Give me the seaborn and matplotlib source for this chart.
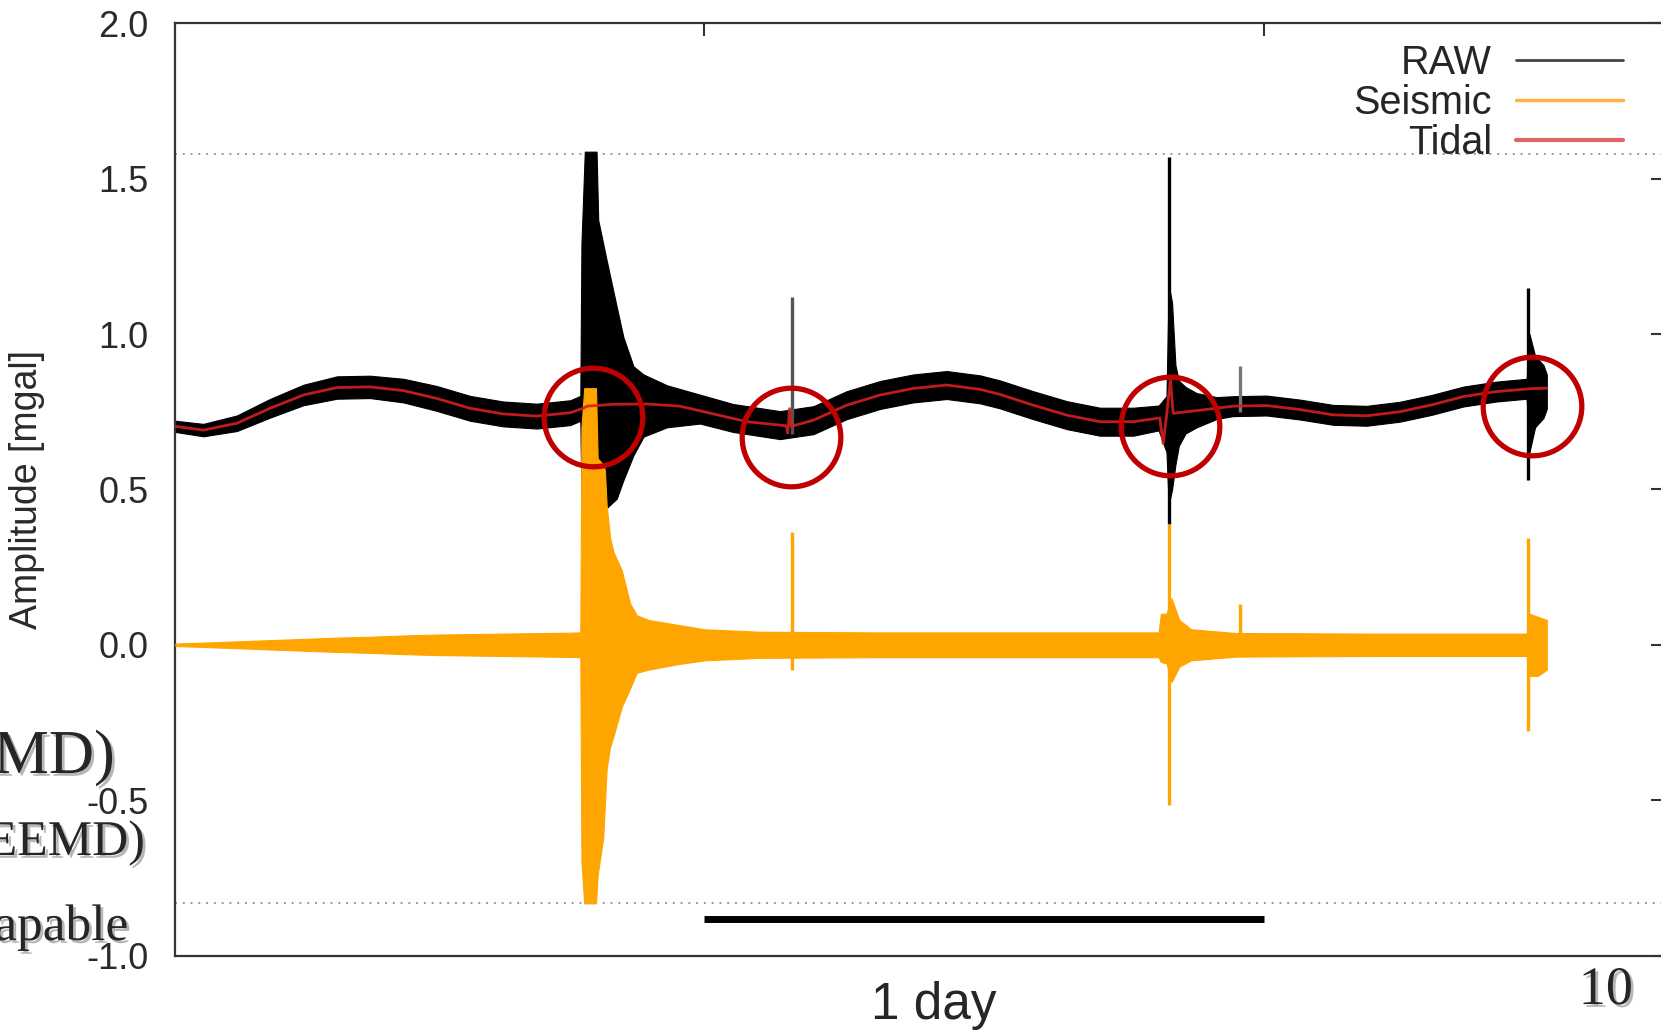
import matplotlib
matplotlib.use('Agg')
import matplotlib.pyplot as plt
import matplotlib.patheffects as pe
from matplotlib.lines import Line2D
import pandas as pd
import seaborn as sns

# time axis in days, amplitude in mgal -------------------------
# tidal component
tidal_day = [0.054, 0.104, 0.164, 0.223, 0.283, 0.343, 0.402, 0.462, 0.521, 0.581,
             0.640, 0.700, 0.760, 0.783, 0.790, 0.837, 0.897, 0.956, 1.016, 1.076,
             1.135, 1.146, 1.149, 1.152, 1.155, 1.195, 1.254, 1.314, 1.373, 1.433,
             1.493, 1.528, 1.588, 1.648, 1.707, 1.767, 1.814, 1.820, 1.826, 1.833,
             1.838, 1.886, 1.945, 2.005, 2.065, 2.124, 2.184, 2.243, 2.300, 2.357,
             2.416, 2.476, 2.506]
tidal_val = [0.703, 0.691, 0.713, 0.761, 0.804, 0.828, 0.830, 0.818, 0.793, 0.761,
             0.743, 0.736, 0.747, 0.761, 0.768, 0.774, 0.775, 0.768, 0.743, 0.718,
             0.707, 0.705, 0.682, 0.760, 0.703, 0.723, 0.771, 0.804, 0.825, 0.836,
             0.822, 0.806, 0.771, 0.739, 0.718, 0.718, 0.730, 0.648, 0.735, 0.852,
             0.745, 0.755, 0.768, 0.770, 0.757, 0.740, 0.737, 0.750, 0.772, 0.799,
             0.815, 0.824, 0.826]

# RAW record (upper / lower envelope of the trace)
raw_day = [0.054, 0.104, 0.164, 0.223, 0.283, 0.343, 0.402, 0.462, 0.521, 0.581,
           0.640, 0.700, 0.760, 0.778, 0.780, 0.786, 0.807, 0.810, 0.825, 0.843,
           0.855, 0.873, 0.891, 0.933, 0.992, 1.051, 1.135, 1.195, 1.254, 1.314,
           1.373, 1.433, 1.493, 1.528, 1.588, 1.648, 1.707, 1.767, 1.812, 1.826,
           1.830, 1.836, 1.842, 1.848, 1.860, 1.880, 1.916, 1.945, 2.005, 2.065,
           2.124, 2.184, 2.243, 2.300, 2.357, 2.416, 2.470, 2.475, 2.485, 2.500,
           2.506]
raw_hi = [0.721, 0.711, 0.738, 0.791, 0.837, 0.864, 0.866, 0.856, 0.833, 0.801,
          0.783, 0.776, 0.787, 0.801, 1.290, 1.587, 1.587, 1.367, 1.238, 1.088,
          0.990, 0.896, 0.870, 0.835, 0.805, 0.775, 0.752, 0.768, 0.816, 0.849,
          0.870, 0.881, 0.867, 0.851, 0.816, 0.784, 0.763, 0.763, 0.770, 0.800,
          1.160, 1.100, 0.900, 0.850, 0.830, 0.810, 0.797, 0.800, 0.802, 0.789,
          0.772, 0.769, 0.782, 0.804, 0.831, 0.847, 0.856, 1.000, 0.930, 0.900,
          0.870]
raw_lo = [0.685, 0.671, 0.688, 0.731, 0.771, 0.792, 0.794, 0.780, 0.753, 0.721,
          0.703, 0.696, 0.707, 0.721, 0.480, 0.440, 0.430, 0.430, 0.440, 0.470,
          0.530, 0.610, 0.670, 0.700, 0.712, 0.685, 0.662, 0.678, 0.726, 0.759,
          0.780, 0.791, 0.777, 0.761, 0.726, 0.694, 0.673, 0.673, 0.690, 0.620,
          0.450, 0.500, 0.580, 0.640, 0.680, 0.700, 0.727, 0.736, 0.738, 0.725,
          0.708, 0.705, 0.718, 0.740, 0.767, 0.783, 0.792, 0.620, 0.700, 0.730,
          0.760]
raw_spike_day = [1.157, 1.830, 1.957, 2.473]
raw_spike_top = [1.12, 1.57, 0.897, 1.147]
raw_spike_bot = [0.68, 0.39, 0.75, 0.53]

# seismic component (envelope)
seis_day = [0.054, 0.104, 0.164, 0.223, 0.283, 0.343, 0.402, 0.462, 0.521, 0.640,
            0.760, 0.778, 0.780, 0.785, 0.806, 0.809, 0.819, 0.822, 0.825, 0.831,
            0.837, 0.852, 0.867, 0.879, 0.900, 0.950, 1.000, 1.100, 1.300, 1.600,
            1.812, 1.816, 1.826, 1.835, 1.849, 1.870, 1.950, 2.200, 2.470, 2.475,
            2.490, 2.506]
seis_hi = [0.004, 0.007, 0.011, 0.015, 0.019, 0.023, 0.026, 0.030, 0.033, 0.036,
           0.039, 0.040, 0.700, 0.826, 0.826, 0.600, 0.580, 0.560, 0.450, 0.347,
           0.300, 0.240, 0.133, 0.095, 0.080, 0.065, 0.050, 0.042, 0.040, 0.040,
           0.040, 0.100, 0.100, 0.150, 0.080, 0.050, 0.038, 0.036, 0.036, 0.100,
           0.090, 0.080]
seis_lo = [-0.004, -0.007, -0.011, -0.015, -0.019, -0.023, -0.026, -0.030, -0.033, -0.036,
           -0.039, -0.040, -0.700, -0.832, -0.832, -0.740, -0.620, -0.510, -0.400, -0.330,
           -0.296, -0.200, -0.140, -0.090, -0.080, -0.063, -0.050, -0.042, -0.040, -0.040,
           -0.040, -0.055, -0.060, -0.120, -0.070, -0.050, -0.038, -0.036, -0.036, -0.100,
           -0.100, -0.080]
seis_spike_day = [1.157, 1.830, 1.957, 2.473]
seis_spike_top = [0.364, 0.39, 0.13, 0.343]
seis_spike_bot = [-0.08, -0.516, -0.02, -0.277]

# marked events
event_day = [0.800, 1.155, 1.832, 2.479]
event_amp = [0.734, 0.668, 0.703, 0.767]

ref_levels = [1.58, -0.83]
day_ticks = [1, 2]
amp_ticks = [-1.0, -0.5, 0.0, 0.5, 1.0, 1.5, 2.0]
scale_bar_day = [1.0, 2.0]
scale_bar_amp = [-0.884, -0.884]

series_names = ['RAW', 'Seismic', 'Tidal']

# ---------------------------------------------------------------
sns.set_style('white')
plt.rcParams['font.family'] = ['Liberation Sans', 'DejaVu Sans']

fig = plt.figure(figsize=(16.61, 10.33), dpi=100)
ax = fig.add_axes([0.10536, 0.0750, 0.8966, 0.9024])

for lv in ref_levels:
    ax.axhline(lv, color='#9a9a9a', lw=1.4, ls=(0, (1, 3)), zorder=1)

ax.fill_between(raw_day, raw_lo, raw_hi, color='black', lw=0.8, zorder=2)
ax.vlines(raw_spike_day, raw_spike_bot, raw_spike_top, colors=['#555555', 'black', '#777777', 'black'],
          lw=2.4, zorder=2)

ax.fill_between(seis_day, seis_lo, seis_hi, color='#FFA500', lw=0.8, zorder=3)
ax.vlines(seis_spike_day, seis_spike_bot, seis_spike_top, colors='#FFA500', lw=2.4, zorder=3)

tidal = pd.DataFrame({'day': tidal_day, 'amp': tidal_val})
sns.lineplot(data=tidal, x='day', y='amp', ax=ax, color='#D42020', lw=2.0, alpha=0.9,
             zorder=4, legend=False)

ax.plot(event_day, event_amp, 'o', ms=71, mfc='none', mec='#C00000', mew=3.8, zorder=5)

ax.plot(scale_bar_day, scale_bar_amp, color='black', lw=5, solid_capstyle='butt', zorder=5)

ax.set_xlim(0.0533, 2.716)
ax.set_ylim(-1.0, 2.0)
ax.set_xticks(day_ticks)
ax.set_xticklabels([])
ax.set_yticks(amp_ticks)
ax.set_yticklabels(['%.1f' % v for v in amp_ticks])
ax.tick_params(axis='both', direction='in', length=9.5, width=1.5, color='#333333',
               top=True, right=True, labelsize=26, labelcolor='#2a2a2a')
ax.tick_params(axis='y', pad=19)
for s in ax.spines.values():
    s.set_color('#333333')
    s.set_linewidth(1.6)
ax.set_xlabel('')
ax.set_ylabel('Amplitude [mgal]', fontsize=27, color='#2a2a2a')
ax.yaxis.set_label_coords(-0.0876, 0.5)

handles = [Line2D([], [], color='#444444', lw=2),
           Line2D([], [], color='#FFB347', lw=2.5),
           Line2D([], [], color='#E06666', lw=3)]
ax.legend(handles, series_names, loc='upper right', bbox_to_anchor=(0.972, 0.978),
          frameon=False, markerfirst=False, fontsize=28.5, handlelength=2.7,
          handletextpad=0.6, labelspacing=0.05, borderaxespad=0, borderpad=0)

fig.text(0.5623, 0.0136, '1 day', fontsize=37, ha='center', va='baseline')

shadow = [pe.withSimplePatchShadow(offset=(2, -2), shadow_rgbFace='#888888', alpha=0.6)]
serif = ['Liberation Serif', 'DejaVu Serif']
fig.text(0.0692, 0.2517, 'MD)', fontsize=45, family=serif, ha='right', va='baseline',
         path_effects=shadow)
fig.text(0.0873, 0.1723, 'EEMD)', fontsize=36, family=serif, ha='right', va='baseline',
         path_effects=shadow)
fig.text(0.0771, 0.0900, 'apable', fontsize=37, family=serif, ha='right', va='baseline',
         path_effects=shadow)
fig.text(0.983, 0.0280, '10', fontsize=39, family=serif, ha='right', va='baseline',
         path_effects=shadow)

fig.savefig('out.png', dpi=100)
